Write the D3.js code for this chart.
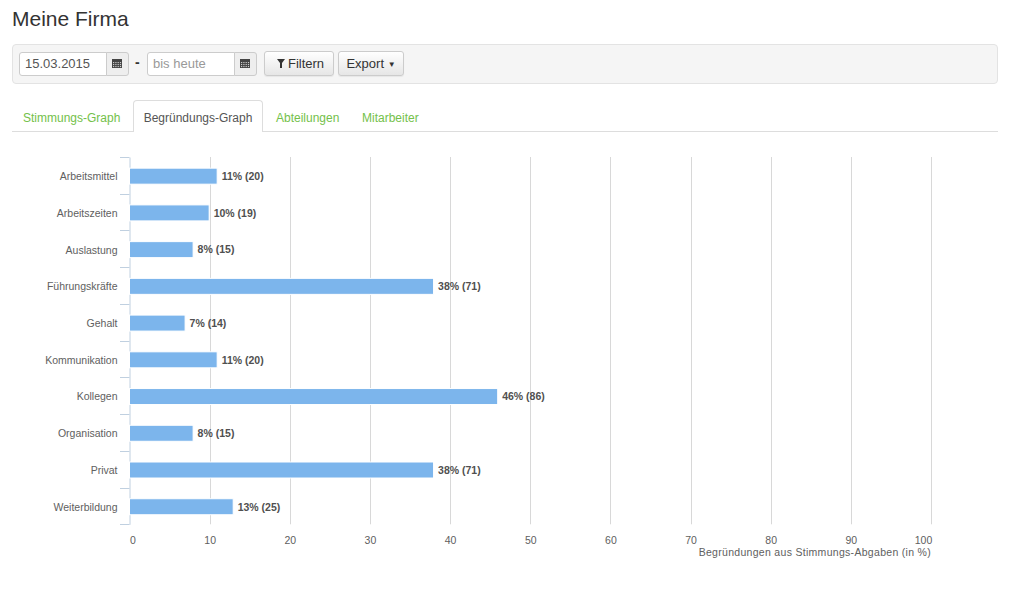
<!DOCTYPE html>
<html><head><meta charset="utf-8">
<script src="https://cdn.jsdelivr.net/npm/d3@7/dist/d3.min.js"></script>
<style>
html,body{margin:0;padding:0;background:#fff;width:1024px;height:593px;overflow:hidden;font-family:"Liberation Sans",Arial,sans-serif;}
.abs{position:absolute;box-sizing:border-box;}
#title{left:12px;top:4px;font-size:21px;color:#333;line-height:30px;}
#well{left:12px;top:44px;width:986px;height:40px;background:#f5f5f5;border:1px solid #e3e3e3;border-radius:4px;}
.inp{height:24px;top:52px;border:1px solid #ccc;border-radius:3px;background:#fff;font-size:13px;color:#555;line-height:22px;padding-left:5px;}
.addon{height:24px;top:52px;border:1px solid #ccc;border-radius:0 3px 3px 0;background:#eee;}
.btn{height:25px;top:51px;border:1px solid #ccc;border-radius:3px;background:linear-gradient(#fff,#e6e6e6);font-size:13px;color:#333;line-height:23px;text-align:center;box-shadow:0 1px 1px rgba(0,0,0,0.06);}
.tab{top:102px;height:33px;font-size:12px;line-height:32px;color:#74c14a;}
#tabline{left:12px;top:131px;width:986px;height:1px;background:#ddd;}
#active{left:133px;top:100px;width:130px;height:32px;border:1px solid #ddd;border-bottom:none;border-radius:4px 4px 0 0;background:#fff;color:#555;text-align:center;font-size:12px;line-height:34px;}
svg{position:absolute;left:0;top:0;}
</style></head>
<body>
<div id="title" class="abs">Meine Firma</div>
<div id="well" class="abs"></div>
<div class="abs inp" style="left:19px;width:88px;border-radius:3px 0 0 3px;">15.03.2015</div>
<div class="abs addon" style="left:106px;width:23px;"></div>
<div class="abs" style="left:135px;top:54px;font-size:14px;color:#333;font-weight:bold;">-</div>
<div class="abs inp" style="left:147px;width:88px;border-radius:3px 0 0 3px;color:#999;">bis heute</div>
<div class="abs addon" style="left:234px;width:23px;"></div>
<div class="abs btn" style="left:264px;width:70px;padding-left:14px;">Filtern</div>
<div class="abs btn" style="left:338px;width:66px;">Export <span style="font-size:8px;vertical-align:1px">&#9660;</span></div>
<div id="tabline" class="abs"></div>
<div class="abs tab" style="left:23px;">Stimmungs-Graph</div>
<div id="active" class="abs">Begründungs-Graph</div>
<div class="abs tab" style="left:276px;">Abteilungen</div>
<div class="abs tab" style="left:362px;">Mitarbeiter</div>
<svg id="chart" width="1024" height="593"></svg>
<script>
const categories = ["Arbeitsmittel","Arbeitszeiten","Auslastung","Führungskräfte","Gehalt","Kommunikation","Kollegen","Organisation","Privat","Weiterbildung"];
const percentValues = [11,10,8,38,7,11,46,8,38,13];
const counts = [20,19,15,71,14,20,86,15,71,25];
const xTicks = [0,10,20,30,40,50,60,70,80,90,100];
const axisTitle = "Begründungen aus Stimmungs-Abgaben (in %)";

const svg = d3.select("#chart");
const font = '"Liberation Sans",Arial,sans-serif';
const x = d3.scaleLinear().domain([0,100]).range([129.5,931]);
const yb = d3.scaleBand().domain(categories).range([157,524.3]);
const barH = 16;

// calendar icons
[[117,64],[245,64]].forEach(([cx,cy])=>{
  const g = svg.append("g").attr("transform",`translate(${cx-5},${cy-5})`);
  g.append("rect").attr("width",10).attr("height",9).attr("fill","#444");
  for(let r=0;r<3;r++)for(let c=0;c<4;c++)
    g.append("rect").attr("x",1+c*2.3).attr("y",3+r*2).attr("width",1.2).attr("height",1.1).attr("fill","#ccc");
});
// filter funnel icon
svg.append("path").attr("d","M277,59 L285,59 L282,63 L282,68 L280,68 L280,63 Z").attr("fill","#333");

// gridlines
svg.append("g").selectAll("line").data(xTicks.slice(1)).join("line")
  .attr("x1",d=>Math.round(x(d))+0.5).attr("x2",d=>Math.round(x(d))+0.5)
  .attr("y1",157).attr("y2",524.3).attr("stroke","#d8d8d8").attr("stroke-width",1);

// y axis
const yAxis = d3.axisLeft(yb).tickSize(0).tickFormat(d=>d);
const ya = svg.append("g").attr("transform","translate(129.5,0)").call(yAxis);
ya.select(".domain").attr("stroke","#c0d0e0");
ya.selectAll("text").attr("x",-12).attr("dy","0.45em").attr("font-family",font).attr("font-size","10.5px").attr("fill","#606060");
// band-boundary ticks
const bounds = categories.map(c=>yb(c)).concat([yb(categories[categories.length-1])+yb.bandwidth()]);
svg.append("g").selectAll("line").data(bounds).join("line")
  .attr("x1",120).attr("x2",129.5).attr("y1",d=>Math.round(d)+0.5).attr("y2",d=>Math.round(d)+0.5)
  .attr("stroke","#c0d0e0");

// bars
svg.append("g").selectAll("rect").data(categories).join("rect")
  .attr("x",x(0)).attr("y",d=>yb(d)+yb.bandwidth()/2-barH/2+0.8)
  .attr("width",(d,i)=>x(percentValues[i])-x(0)-0.5)
  .attr("height",barH)
  .attr("fill","#7cb5ec").attr("stroke","#fff").attr("stroke-width",1);

// data labels
svg.append("g").selectAll("text").data(categories).join("text")
  .attr("x",(d,i)=>x(percentValues[i])+4)
  .attr("y",d=>yb(d)+yb.bandwidth()/2+4.6)
  .attr("font-family",font).attr("font-size","10.5px").attr("font-weight","bold").attr("fill","#505050")
  .text((d,i)=>`${percentValues[i]}% (${counts[i]})`);

// x axis labels
const xa = svg.append("g").attr("transform","translate(0,524.3)")
  .call(d3.axisBottom(x).tickValues(xTicks).tickSize(0).tickPadding(12));
xa.select(".domain").remove();
xa.selectAll("text").attr("font-family",font).attr("font-size","10.5px").attr("fill","#606060")
  .attr("dx",d=>d===0?3:(d===100?-8:0));

svg.append("text").attr("x",931).attr("y",556).attr("text-anchor","end")
  .attr("font-family",font).attr("font-size","10.5px").attr("letter-spacing","0.3px").attr("fill","#606060").text(axisTitle);
</script>
</body></html>
